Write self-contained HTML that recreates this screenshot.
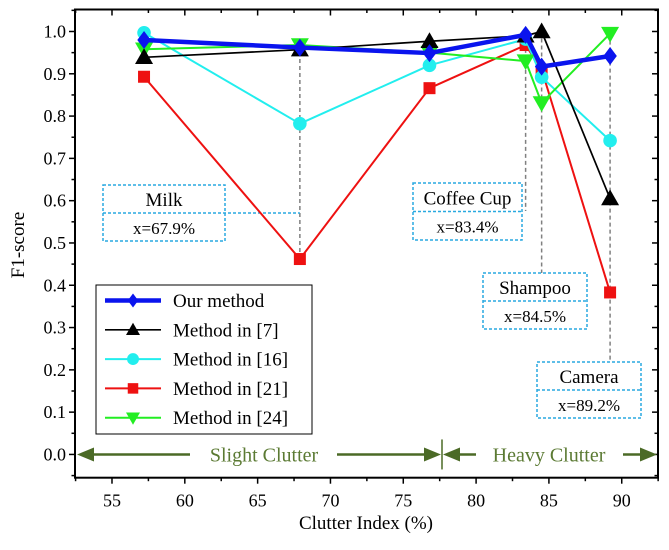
<!DOCTYPE html>
<html><head><meta charset="utf-8"><style>
body{margin:0;background:#fff;}
svg{display:block;font-family:"Liberation Serif",serif;}
</style></head><body>
<svg id="chart" width="669" height="550" viewBox="0 0 669 550">
</svg>
<script>
const xCats=[57.2,67.9,76.8,83.4,84.5,89.2];
const seriesNames=["Our method","Method in [7]","Method in [16]","Method in [21]","Method in [24]"];
const ourVals=[0.980,0.962,0.949,0.992,0.917,0.942];
const m7Vals=[0.939,0.957,0.977,0.990,1.000,0.605];
const m16Vals=[0.997,0.782,0.920,0.982,0.892,0.742];
const m21Vals=[0.893,0.462,0.866,0.968,0.910,0.383];
const m24Vals=[0.958,0.968,0.950,0.930,0.831,0.995];
const xTicks=[55,60,65,70,75,80,85,90];
const yTicks=[0.0,0.1,0.2,0.3,0.4,0.5,0.6,0.7,0.8,0.9,1.0];
const annotNames=["Milk","Coffee Cup","Shampoo","Camera"];
const annotX=[67.9,83.4,84.5,89.2];

const NS="http://www.w3.org/2000/svg";
const svg=document.getElementById('chart');
const L=75,R=658,T=9.5,B=477.7;
const xMin=52.46,xMax=92.49,yMin=-0.055,yMax=1.052;
const sx=v=>L+(v-xMin)/(xMax-xMin)*(R-L);
const sy=v=>B-(v-yMin)/(yMax-yMin)*(B-T);
function el(tag,attrs,parent){const e=document.createElementNS(NS,tag);for(const k in attrs)e.setAttribute(k,attrs[k]);(parent||svg).appendChild(e);return e;}

const guideTop=[0.968,0.992,1.0,0.995];
const guideBot=[0.462,null,null,null];
const boxes=[[103,185,122,56],[413,183,109,57],[483,273,104,56],[537,362,104,56]];
annotX.forEach((v,i)=>{
  const x=sx(v);
  const y2 = i===0? sy(guideBot[0]) : (i===1? boxes[1][1]+28 : boxes[i][1]);
  const g=el('line',{x1:x,y1:sy(guideTop[i]),x2:x,y2:y2,stroke:'#808080','stroke-width':1.5,'stroke-dasharray':'4,3'});
  
  
});

const annotLabels=["x=67.9%","x=83.4%","x=84.5%","x=89.2%"];
boxes.forEach((b,i)=>{
  const g=el('g',{});
  
  
  el('rect',{x:b[0],y:b[1],width:b[2],height:b[3],fill:'none',stroke:'#29a9e0','stroke-width':1.5,'stroke-dasharray':'3,2'},g);
  const mid=b[1]+b[3]/2;
  el('line',{x1:b[0],y1:mid,x2:(i===0?sx(67.9):b[0]+b[2]),y2:mid,stroke:'#29a9e0','stroke-width':1.5,'stroke-dasharray':'3,2'},g);
  const t1=el('text',{x:b[0]+b[2]/2,y:mid-7,'text-anchor':'middle','font-size':19,fill:'#000'},g);t1.textContent=annotNames[i];
  const t2=el('text',{x:b[0]+b[2]/2,y:mid+21,'text-anchor':'middle','font-size':17,fill:'#000'},g);t2.textContent=annotLabels[i];
});

const frame=el('rect',{x:L,y:T,width:R-L,height:B-T,fill:'none',stroke:'#000','stroke-width':2});



for(let v=52.5;v<=92.5;v+=2.5){
  const x=sx(v);const major=(v%5===0);const len=major?6:3.5;
  el('line',{x1:x,y1:B,x2:x,y2:B+len,stroke:'#000','stroke-width':1.5});
  el('line',{x1:x,y1:T,x2:x,y2:T+len,stroke:'#000','stroke-width':1.5});
}
xTicks.forEach(v=>{
  const t=el('text',{x:sx(v),y:B+29,'text-anchor':'middle','font-size':18});
  t.textContent=v;
  
  
});
for(let k=-1;k<=21;k++){
  const v=k*0.05; if(v<yMin||v>yMax)continue;
  const y=sy(v);const major=(k%2===0);const len=major?6:3.5;
  el('line',{x1:L-len,y1:y,x2:L,y2:y,stroke:'#000','stroke-width':1.5});
  el('line',{x1:R-len,y1:y,x2:R,y2:y,stroke:'#000','stroke-width':1.5});
}
yTicks.forEach(v=>{
  const t=el('text',{x:L-9,y:sy(v)+6,'text-anchor':'end','font-size':18});
  t.textContent=v.toFixed(1);
  
  
});
const xt=el('text',{x:366,y:529,'text-anchor':'middle','font-size':19});xt.textContent='Clutter Index (%)';


const yt=el('text',{x:0,y:0,'text-anchor':'middle','font-size':19,transform:'translate(24,245) rotate(-90)'});yt.textContent='F1-score';



const green='#4b6a26';
const cg=el('g',{});


const ay=sy(0);
function seg(x1,x2){el('line',{x1:x1,y1:ay,x2:x2,y2:ay,stroke:green,'stroke-width':2.5},cg);}
function headL(x){el('polygon',{points:`${x},${ay} ${x+17},${ay-7} ${x+17},${ay+7}`,fill:green},cg);}
function headR(x){el('polygon',{points:`${x},${ay} ${x-17},${ay-7} ${x-17},${ay+7}`,fill:green},cg);}
headL(77);seg(90,190);seg(337,426);headR(441);
el('line',{x1:442,y1:ay-15,x2:442,y2:ay+15,stroke:green,'stroke-width':1.5},cg);
headL(443);seg(455,476);seg(623,645);headR(657);
const st=el('text',{x:264,y:ay+7,'text-anchor':'middle','font-size':20,fill:'#5b7a33'},cg);st.textContent='Slight Clutter';
const ht=el('text',{x:549,y:ay+7,'text-anchor':'middle','font-size':20,fill:'#5b7a33'},cg);ht.textContent='Heavy Clutter';

function marker(type,x,y,c,s,g){
  if(type==='diamond')el('polygon',{points:`${x},${y-s} ${x+s*0.75},${y} ${x},${y+s} ${x-s*0.75},${y}`,fill:c},g);
  else if(type==='up')el('polygon',{points:`${x},${y-s} ${x+s},${y+s*0.75} ${x-s},${y+s*0.75}`,fill:c},g);
  else if(type==='down')el('polygon',{points:`${x},${y+s} ${x+s},${y-s*0.75} ${x-s},${y-s*0.75}`,fill:c},g);
  else if(type==='circle')el('circle',{cx:x,cy:y,r:s*0.85,fill:c},g);
  else if(type==='square')el('rect',{x:x-s*0.75,y:y-s*0.75,width:s*1.5,height:s*1.5,fill:c},g);
}
const defs=[
 {vals:m21Vals,c:'#ee1111',m:'square',w:2,s:8,name:'series-method-21'},
 {vals:m16Vals,c:'#22eeee',m:'circle',w:2,s:8,name:'series-method-16'},
 {vals:m24Vals,c:'#22ee22',m:'down',w:2,s:9,name:'series-method-24'},
 {vals:m7Vals,c:'#000000',m:'up',w:1.7,s:9,name:'series-method-7'},
 {vals:ourVals,c:'#0a14ee',m:'diamond',w:4.5,s:9,name:'series-our-method'}
];
defs.forEach(d=>{
  const g=el('g',{});
  
  
  el('polyline',{points:xCats.map((x,i)=>sx(x)+','+sy(d.vals[i])).join(' '),fill:'none',stroke:d.c,'stroke-width':d.w,'stroke-linejoin':'round'},g);
  xCats.forEach((x,i)=>marker(d.m,sx(x),sy(d.vals[i]),d.c,d.s,g));
});

const lg=el('g',{});


el('rect',{x:96,y:285,width:216,height:149,fill:'#fff',stroke:'#000','stroke-width':1},lg);
const legDefs=[[ '#0a14ee','diamond',4.5],['#000','up',1.7],['#22eeee','circle',2],['#ee1111','square',2],['#22ee22','down',2]];
seriesNames.forEach((n,i)=>{
  const y=300.5+i*29.3;
  const e=el('g',{},lg);
  
  
  el('line',{x1:105,y1:y,x2:161,y2:y,stroke:legDefs[i][0],'stroke-width':legDefs[i][2]},e);
  marker(legDefs[i][1],133,y,legDefs[i][0],7,e);
  const t=el('text',{x:173,y:y+6.5,'font-size':19},e);t.textContent=n;
});
</script>
</body></html>
